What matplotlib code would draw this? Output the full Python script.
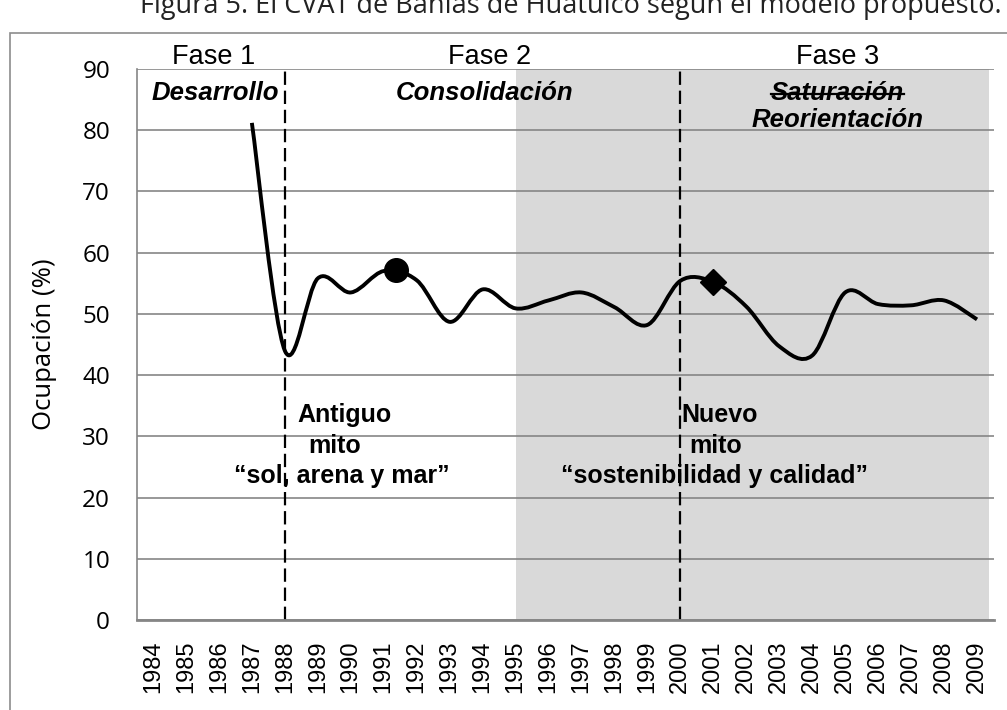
import matplotlib
matplotlib.use("Agg")
import matplotlib.pyplot as plt
from matplotlib.path import Path
from matplotlib.patches import PathPatch, Rectangle
from matplotlib.lines import Line2D
import numpy as np

# --- Data ---
years = list(range(1984, 2010))
occ_years = list(range(1987, 2010))
occupancy = [81.2, 44.0, 55.8, 53.5, 57.0, 55.5, 48.7, 54.0, 50.9, 52.2, 53.5, 51.1,
             48.2, 55.4, 55.2, 51.2, 44.7, 43.2, 53.5, 51.6, 51.4, 52.2, 49.1]

circle_year, circle_value = 1991.37, 57.2
diamond_year, diamond_value = 2001, 55.2
phase_breaks = [1988, 2000]
shade_start = 1995

phase_titles = ["Fase 1", "Fase 2", "Fase 3"]
phase_names = ["Desarrollo", "Consolidación", "Saturación", "Reorientación"]
old_myth = ["Antiguo", "mito", "\u201csol, arena y mar\u201d"]
new_myth = ["Nuevo", "mito", "\u201csostenibilidad y calidad\u201d"]

ARIAL = "Liberation Sans"
CAL = "Open Sans"

W, H = 1007, 710
fig = plt.figure(figsize=(W / 100, H / 100), dpi=100)
fig.patch.set_facecolor("white")

# outer chart border
fig.add_artist(Rectangle((10 / W, -0.05), 1.1, (H - 33) / H + 0.05, transform=fig.transFigure,
                         fill=False, edgecolor="#8c8c8c", linewidth=1.2))

fig.text(571 / W, (H - 13) / H, "Figura 5. El CVAT de Bahías de Huatulco según el modelo propuesto.",
         ha="center", va="baseline", fontsize=19.5, family=CAL, color="#222222")

ax = fig.add_axes([136.5 / W, (H - 620) / H, 857 / W, 551 / H])
ax.set_facecolor("white")

def xi(year):
    return year - years[0]

ax.set_xlim(-0.5, len(years) - 0.5)
ax.set_ylim(0, 90)

# grey band for the later period
ax.axvspan(xi(shade_start), len(years) - 0.63, color="#d9d9d9", zorder=0.1, lw=0)

ax.set_axisbelow(True)
ax.yaxis.grid(True, color="#868686", linewidth=1.2)
ax.set_yticks(range(0, 100, 10))
ax.set_xticks(range(len(years)))
ax.set_xticklabels([str(y) for y in years], rotation=90, family=ARIAL, fontsize=17)
ax.tick_params(axis="x", length=0, pad=15)
ax.tick_params(axis="y", length=0, pad=19)
for lab in ax.get_yticklabels():
    lab.set_family(CAL)
    lab.set_fontsize(17.5)
ax.set_ylabel("Ocupación (%)", family=CAL, fontsize=18.5, labelpad=18)

for side in ["top", "right"]:
    ax.spines[side].set_visible(False)
ax.spines["left"].set_color("#868686")
ax.spines["left"].set_linewidth(1.2)
ax.spines["bottom"].set_color("#868686")
ax.spines["bottom"].set_linewidth(2)

# phase separators
for b in phase_breaks:
    ax.axvline(xi(b), color="black", lw=1.6, linestyle=(0, (6, 2.6)), zorder=2)

# smoothed occupancy line (Bezier through the yearly values)
px = [xi(y) for y in occ_years]
py = occupancy
verts = [(px[0], py[0])]
codes = [Path.MOVETO]
n = len(px)
for i in range(n - 1):
    p0 = i - 1 if i > 0 else i
    p3 = i + 2 if i + 2 < n else i + 1
    c1 = (px[i] + (px[i + 1] - px[p0]) / 6, py[i] + (py[i + 1] - py[p0]) / 6)
    c2 = (px[i + 1] - (px[p3] - px[i]) / 6, py[i + 1] - (py[p3] - py[i]) / 6)
    verts += [c1, c2, (px[i + 1], py[i + 1])]
    codes += [Path.CURVE4] * 3
ax.add_patch(PathPatch(Path(verts, codes), fill=False, edgecolor="black", lw=2.8,
                       capstyle="butt", joinstyle="round", zorder=3))

ax.plot([xi(circle_year)], [circle_value], marker="o", markersize=17, color="black", zorder=4)
ax.plot([xi(diamond_year)], [diamond_value], marker="D", markersize=13, color="black", zorder=4)

# phase headings
ax.text(xi(1985.85), 90.8, phase_titles[0], ha="center", va="baseline", family=ARIAL, fontsize=19.5)
ax.text(xi(1994.2), 90.8, phase_titles[1], ha="center", va="baseline", family=ARIAL, fontsize=19.5)
ax.text(xi(2004.76), 90.8, phase_titles[2], ha="center", va="baseline", family=ARIAL, fontsize=19.5)

bi = dict(family=ARIAL, fontsize=18.5, fontweight="bold", fontstyle="italic", va="baseline", ha="center")
ax.text(xi(1985.88), 84.9, phase_names[0], **bi)
ax.text(xi(1994.06), 84.9, phase_names[1], **bi)
sat = ax.text(xi(2004.76), 84.9, phase_names[2], **bi)
ax.text(xi(2004.76), 80.6, phase_names[3], **bi)

bd = dict(family=ARIAL, fontsize=18, fontweight="bold", va="baseline", ha="center")
ax.text(xi(1989.8), 32.3, old_myth[0], **bd)
ax.text(xi(1989.5), 27.3, old_myth[1], **bd)
ax.text(xi(1989.72), 22.45, old_myth[2], **bd)
ax.text(xi(2001.2), 32.3, new_myth[0], **bd)
ax.text(xi(2001.08), 27.3, new_myth[1], **bd)
ax.text(xi(2001.03), 22.45, new_myth[2], **bd)

# strike through "Saturación"
fig.canvas.draw()
bb = sat.get_window_extent()
inv = fig.transFigure.inverted()
(x0, ys), (x1, _) = inv.transform([(bb.x0, bb.y0 + bb.height * 0.45), (bb.x1, bb.y0)])
fig.add_artist(Line2D([x0, x1], [ys, ys], transform=fig.transFigure, color="black", lw=1.6))

fig.savefig("out.png", dpi=100, facecolor="white")
